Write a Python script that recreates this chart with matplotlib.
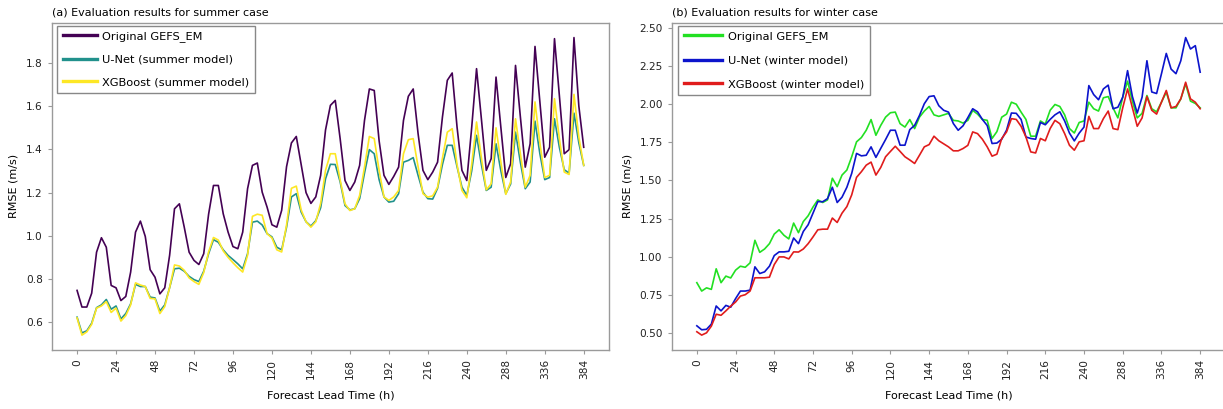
import numpy as np
import matplotlib
matplotlib.use('Agg')
import matplotlib.pyplot as plt

plt.rcParams['font.family'] = ['DejaVu Sans']

# lead times: 3-hourly to 240 h, then 6-hourly to 384 h
hours = list(range(0, 241, 3)) + list(range(246, 385, 6))
tick_hours = [0, 24, 48, 72, 96, 120, 144, 168, 192, 216, 240, 288, 336, 384]

# summer case
summer_gefs = [0.747, 0.67, 0.67, 0.734, 0.924, 0.991, 0.947, 0.77, 0.759, 0.70,
               0.719, 0.832, 1.017, 1.068, 0.997, 0.843, 0.808, 0.731, 0.759, 0.91,
               1.125, 1.148, 1.04, 0.924, 0.886, 0.867, 0.917, 1.10, 1.233, 1.233,
               1.102, 1.017, 0.95, 0.94, 1.017, 1.218, 1.326, 1.337, 1.202, 1.133,
               1.051, 1.04, 1.118, 1.32, 1.43, 1.46, 1.33, 1.20, 1.15, 1.18,
               1.28, 1.49, 1.604, 1.627, 1.45, 1.256, 1.21, 1.249, 1.326, 1.534,
               1.68, 1.673, 1.44, 1.28, 1.238, 1.275, 1.318, 1.534, 1.646, 1.68,
               1.473, 1.303, 1.26, 1.295, 1.341, 1.55, 1.72, 1.754, 1.503, 1.303,
               1.256, 1.50, 1.774, 1.54, 1.303, 1.357, 1.735, 1.50, 1.27, 1.334,
               1.789, 1.55, 1.318, 1.426, 1.877, 1.62, 1.364, 1.41, 1.913, 1.65,
               1.38, 1.399, 1.918, 1.60, 1.41]
summer_unet = [0.623, 0.55, 0.56, 0.595, 0.667, 0.68, 0.705, 0.66, 0.675, 0.615,
               0.64, 0.685, 0.775, 0.765, 0.765, 0.716, 0.712, 0.651, 0.68, 0.76,
               0.847, 0.85, 0.836, 0.812, 0.797, 0.788, 0.836, 0.917, 0.982, 0.97,
               0.935, 0.909, 0.89, 0.87, 0.847, 0.917, 1.063, 1.068, 1.05, 1.01,
               0.995, 0.947, 0.935, 1.04, 1.18, 1.195, 1.11, 1.065, 1.045, 1.07,
               1.13, 1.264, 1.331, 1.33, 1.25, 1.14, 1.12, 1.125, 1.172, 1.29,
               1.399, 1.38, 1.26, 1.18, 1.156, 1.16, 1.195, 1.341, 1.349, 1.362,
               1.28, 1.202, 1.172, 1.17, 1.22, 1.33, 1.419, 1.419, 1.32, 1.225,
               1.187, 1.30, 1.465, 1.33, 1.21, 1.225, 1.426, 1.30, 1.195, 1.24,
               1.48, 1.34, 1.218, 1.249, 1.531, 1.38, 1.26, 1.27, 1.542, 1.41,
               1.306, 1.29, 1.568, 1.43, 1.326]
summer_xgb = [0.62, 0.54, 0.555, 0.59, 0.665, 0.675, 0.695, 0.645, 0.665, 0.605,
              0.63, 0.68, 0.782, 0.772, 0.765, 0.71, 0.708, 0.64, 0.672, 0.76,
              0.865, 0.86, 0.84, 0.805, 0.788, 0.775, 0.83, 0.925, 0.992, 0.98,
              0.93, 0.90, 0.875, 0.852, 0.832, 0.91, 1.09, 1.10, 1.095, 1.01,
              0.99, 0.935, 0.925, 1.05, 1.22, 1.23, 1.12, 1.065, 1.04, 1.065,
              1.15, 1.303, 1.38, 1.38, 1.26, 1.148, 1.117, 1.125, 1.187, 1.318,
              1.46, 1.45, 1.303, 1.18, 1.164, 1.18, 1.21, 1.38, 1.445, 1.45,
              1.32, 1.195, 1.179, 1.185, 1.225, 1.36, 1.48, 1.496, 1.33, 1.21,
              1.176, 1.33, 1.527, 1.36, 1.213, 1.241, 1.50, 1.34, 1.192, 1.249,
              1.542, 1.38, 1.225, 1.28, 1.62, 1.43, 1.27, 1.28, 1.635, 1.45,
              1.295, 1.284, 1.655, 1.457, 1.326]

# winter case
winter_gefs = [0.829, 0.774, 0.795, 0.785, 0.92, 0.829, 0.872, 0.86, 0.911, 0.937,
               0.93, 0.959, 1.107, 1.028, 1.05, 1.085, 1.148, 1.176, 1.14, 1.116,
               1.22, 1.157, 1.23, 1.268, 1.325, 1.372, 1.355, 1.372, 1.514, 1.459,
               1.535, 1.568, 1.655, 1.753, 1.781, 1.829, 1.899, 1.796, 1.861, 1.915,
               1.944, 1.948, 1.872, 1.85, 1.899, 1.84, 1.915, 1.955, 1.985, 1.93,
               1.92, 1.93, 1.94, 1.894, 1.89, 1.876, 1.894, 1.959, 1.935, 1.90,
               1.894, 1.775, 1.82, 1.915, 1.935, 2.013, 2.0, 1.948, 1.90, 1.79,
               1.79, 1.89, 1.87, 1.96, 1.998, 1.985, 1.93, 1.84, 1.811, 1.88,
               1.89, 2.013, 1.97, 1.955, 2.042, 2.05, 1.976, 1.91, 2.046, 2.151,
               2.02, 1.91, 1.94, 2.057, 1.97, 1.95, 2.013, 2.079, 1.976, 1.976,
               2.035, 2.133, 2.02, 2.005, 1.976]
winter_unet = [0.546, 0.52, 0.523, 0.557, 0.676, 0.644, 0.68, 0.668, 0.724, 0.774,
               0.774, 0.78, 0.933, 0.889, 0.90, 0.937, 1.007, 1.031, 1.031, 1.035,
               1.122, 1.085, 1.165, 1.209, 1.285, 1.361, 1.36, 1.38, 1.455, 1.355,
               1.39, 1.455, 1.546, 1.677, 1.661, 1.665, 1.72, 1.651, 1.71, 1.768,
               1.829, 1.829, 1.731, 1.731, 1.833, 1.861, 1.926, 2.003, 2.05, 2.055,
               1.99, 1.96, 1.948, 1.873, 1.829, 1.858, 1.912, 1.97, 1.95, 1.90,
               1.86, 1.742, 1.745, 1.77, 1.83, 1.942, 1.94, 1.90, 1.785, 1.775,
               1.77, 1.88, 1.865, 1.90, 1.93, 1.95, 1.89, 1.81, 1.759, 1.81,
               1.85, 2.122, 2.063, 2.029, 2.10, 2.125, 1.97, 1.98, 2.046, 2.22,
               2.05, 1.942, 2.046, 2.285, 2.08, 2.07, 2.199, 2.333, 2.23, 2.20,
               2.285, 2.437, 2.362, 2.384, 2.21]
winter_xgb = [0.507, 0.485, 0.50, 0.544, 0.622, 0.615, 0.644, 0.675, 0.702, 0.741,
              0.75, 0.774, 0.861, 0.861, 0.861, 0.865, 0.948, 0.998, 0.998, 0.985,
              1.031, 1.03, 1.05, 1.085, 1.129, 1.176, 1.18, 1.18, 1.253, 1.224,
              1.285, 1.328, 1.405, 1.52, 1.557, 1.60, 1.62, 1.535, 1.585, 1.655,
              1.69, 1.724, 1.69, 1.655, 1.634, 1.611, 1.665, 1.72, 1.735, 1.79,
              1.76, 1.74, 1.72, 1.694, 1.694, 1.709, 1.73, 1.818, 1.807, 1.77,
              1.72, 1.659, 1.672, 1.775, 1.818, 1.905, 1.90, 1.855, 1.785, 1.687,
              1.68, 1.775, 1.76, 1.84, 1.894, 1.872, 1.807, 1.73, 1.698, 1.753,
              1.76, 1.92, 1.84, 1.84, 1.905, 1.955, 1.84, 1.833, 1.976, 2.10,
              1.976, 1.855, 1.91, 2.05, 1.96, 1.935, 2.013, 2.09, 1.976, 1.985,
              2.035, 2.144, 2.035, 2.013, 1.97]

summer_labels = ['Original GEFS_EM', 'U-Net (summer model)', 'XGBoost (summer model)']
winter_labels = ['Original GEFS_EM', 'U-Net (winter model)', 'XGBoost (winter model)']
summer_colors = ['#440154', '#21918c', '#fde725']
winter_colors = ['#22e022', '#0c14cc', '#e01c1c']

FS = 7.6
SPINE = '#9a9a9a'


def style_axes(ax, title):
    x = np.arange(len(hours))
    ticks = [hours.index(h) for h in tick_hours]
    ax.set_xticks(ticks)
    ax.set_xticklabels([str(h) for h in tick_hours], rotation=90, fontsize=FS)
    ax.tick_params(axis='both', length=3, width=0.8, color=SPINE, labelsize=FS,
                   labelcolor='#222222')
    for s in ax.spines.values():
        s.set_color(SPINE)
        s.set_linewidth(1.0)
    ax.set_xlabel('Forecast Lead Time (h)', fontsize=FS + 0.4, labelpad=8)
    ax.set_ylabel('RMSE (m/s)', fontsize=FS + 0.4, labelpad=5)
    ax.set_title(title, loc='left', fontsize=FS + 0.4, pad=5)
    return x


def add_legend(ax, handlelength, spacing, anchor_x):
    leg = ax.legend(loc='upper left', fontsize=FS + 0.6, frameon=True, fancybox=False,
                    edgecolor='#888888', framealpha=1, handlelength=handlelength,
                    handletextpad=0.5, labelspacing=spacing, borderpad=0.5,
                    borderaxespad=0.25, bbox_to_anchor=(anchor_x, 1.0))
    for h in leg.get_lines():
        h.set_linewidth(2.4)
    leg.get_frame().set_linewidth(1.0)
    return leg


fig = plt.figure(figsize=(12.23, 4.09), dpi=100)

# (a) summer
ax1 = fig.add_axes([0.0423, 0.1443, 0.4557, 0.8002])
x = style_axes(ax1, '(a) Evaluation results for summer case')
for y, c, lab in zip([summer_gefs, summer_unet, summer_xgb], summer_colors, summer_labels):
    ax1.plot(x, y, color=c, lw=1.2, label=lab)
ax1.set_yticks([0.6, 0.8, 1.0, 1.2, 1.4, 1.6, 1.8])
add_legend(ax1, 3.0, 1.1, 0.004)

# (b) winter
ax2 = fig.add_axes([0.5492, 0.1443, 0.4527, 0.8002])
x = style_axes(ax2, '(b) Evaluation results for winter case')
for y, c, lab in zip([winter_gefs, winter_unet, winter_xgb], winter_colors, winter_labels):
    ax2.plot(x, y, color=c, lw=1.2, label=lab)
yt = [0.5, 0.75, 1.0, 1.25, 1.5, 1.75, 2.0, 2.25, 2.5]
ax2.set_yticks(yt)
ax2.set_yticklabels([f'{v:.2f}' for v in yt])
add_legend(ax2, 3.4, 1.2, 0.006)

fig.savefig('out.png', dpi=100, facecolor='white')
plt.close(fig)
